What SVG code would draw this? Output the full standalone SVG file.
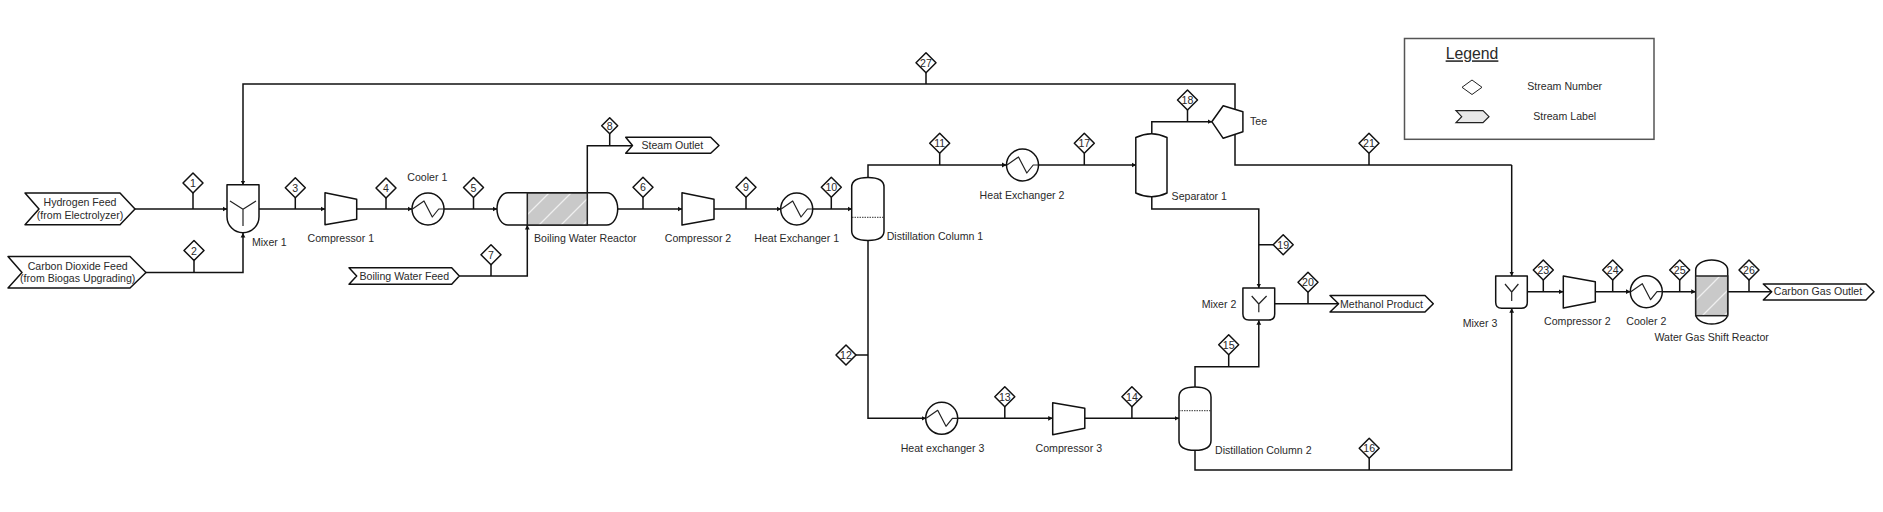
<svg xmlns="http://www.w3.org/2000/svg" width="1883" height="512" viewBox="0 0 1883 512">
<style>
text{font-family:"Liberation Sans",Arial,sans-serif;font-size:10.6px;fill:#2a2a2a;text-anchor:middle}
.s{fill:#fff;stroke:#111;stroke-width:1.5;stroke-linejoin:round}
.n{fill:none;stroke:#222;stroke-width:1.2;stroke-linejoin:round}
.c{fill:none;stroke:#111;stroke-width:1.5;stroke-linejoin:miter}
.a{marker-end:url(#ah)}
.l{text-anchor:start}
</style>
<defs>
<marker id="ah" markerUnits="userSpaceOnUse" markerWidth="5" markerHeight="6" refX="4.5" refY="3" orient="auto"><path d="M0,0.6 L4.5,3 L0,5.4 Z" fill="#111"/></marker>
<pattern id="cat" patternUnits="userSpaceOnUse" width="22" height="22" x="527" y="193"><rect width="22" height="22" fill="#c9c9c9"/><path d="M-2,24 L24,-2 M-2,2 L2,-2 M20,24 L24,20" stroke="#fff" stroke-width="1.3" stroke-opacity=".7"/></pattern>
<polygon id="dia" class="s" points="0,-10 10,0 0,10 -10,0"/>
<path id="hx" class="n" d="M-15.5,0 L-4,-8 L4.3,8 L10.7,0 L16,0"/>
</defs>

<g id="connectors">
<path class="c a" d="M135,209 H227"/>
<path class="c a" d="M146,272.5 H243 V233"/>
<path class="c a" d="M1235,109 V84 H243 V185"/>
<path class="c a" d="M259,209 H325"/>
<path class="c a" d="M357,209 H412"/>
<path class="c a" d="M444,209 H497"/>
<path class="c a" d="M459.3,276 H527.3 V225"/>
<path class="c" d="M587.3,193 V145.7 H632"/>
<path class="c a" d="M618,209 H682"/>
<path class="c a" d="M714,209 H781"/>
<path class="c a" d="M813,209 H852"/>
<path class="c a" d="M868,177.5 V165 H1006.5"/>
<path class="c a" d="M868,240.5 V418.3 H926"/>
<path class="c a" d="M1038.5,165 H1136"/>
<path class="c a" d="M1151.8,133.5 V121.7 H1212"/>
<path class="c a" d="M1151.8,197 V209 H1258.8 V288"/>
<path class="c" d="M1235,134 V165 H1511.7"/>
<path class="c a" d="M1511.7,165 V276"/>
<path class="c a" d="M958,418.3 H1052.7"/>
<path class="c a" d="M1085,418.3 H1179"/>
<path class="c a" d="M1195,387 V366.7 H1258.8 V320.3"/>
<path class="c a" d="M1195,450 V470 H1511.7 V308.3"/>
<path class="c" d="M1274.7,303.7 H1338"/>
<path class="c a" d="M1527.3,291.7 H1563.3"/>
<path class="c a" d="M1595.3,291.7 H1630.5"/>
<path class="c a" d="M1662.3,291.7 H1695.7"/>
<path class="c" d="M1727.7,291.7 H1771"/>
<path class="c" d="M193,193 V209 M194,260.5 V272.5 M295.3,197.7 V209 M386,198 V209 M473.5,197.5 V209 M491,264.7 V276 M609.7,133.7 V145.7 M643,197.3 V209 M746,197.3 V209 M831.3,197.3 V209 M939.7,153.3 V165 M1084.3,153.3 V165 M1187.5,110 V121.7 M1369,153.3 V165 M926,72.7 V84 M1308,292.3 V303.7 M1228.7,354.7 V366.7 M1369.2,458.3 V470 M1004.8,406.7 V418.3 M1131.9,406.7 V418.3 M856,355 H868 M1258.8,244.7 H1273 M1543.3,280 V291.7 M1612.7,280 V291.7 M1679.7,280 V291.7 M1749,280 V291.7"/>
</g>

<g id="hydrogen-feed"><polygon class="s" points="25,193 120,193 135,209 120,224.7 25,224.7 39,209"/><text x="80" y="206">Hydrogen Feed</text><text x="80" y="219">(from Electrolyzer)</text></g>
<g id="co2-feed"><polygon class="s" points="8,256.5 130,256.5 146,272.5 130,288 8,288 22,272.5"/><text x="77.7" y="270">Carbon Dioxide Feed</text><text x="77.7" y="282">(from Biogas Upgrading)</text></g>
<g id="boiling-water-feed"><polygon class="s" points="349,267.7 451.7,267.7 459.3,276 451.7,284.3 349,284.3 356.7,276"/><text x="404.3" y="280">Boiling Water Feed</text></g>
<g id="steam-outlet"><polygon class="s" points="625.7,137.3 710.7,137.3 719,145.5 710.7,153.3 625.7,153.3 632.5,145.5"/><text x="672.3" y="149">Steam Outlet</text></g>
<g id="methanol-product"><polygon class="s" points="1330,295.5 1425,295.5 1433.3,303.7 1425,312 1330,312 1338.6,303.7"/><text x="1381.5" y="308">Methanol Product</text></g>
<g id="carbon-gas-outlet"><polygon class="s" points="1763.3,284 1866,284 1874,291.7 1866,300 1763.3,300 1771.7,291.7"/><text x="1818" y="295">Carbon Gas Outlet</text></g>

<g id="mixer-1"><path class="s" d="M227,184.7 H259 V216.7 A16,16 0 0 1 227,216.7 Z"/><path class="n" d="M230,201 L243,209.3 L256,201 M243,209.3 V226"/><text x="269.3" y="246">Mixer 1</text></g>
<g id="compressor-1"><polygon class="s" points="325,192.7 356.7,199.3 356.7,219.3 325,224.7"/><text x="340.8" y="242.3">Compressor 1</text></g>
<g id="cooler-1"><circle class="s" cx="428" cy="209" r="16"/><use href="#hx" x="428" y="209"/><text x="427.3" y="181">Cooler 1</text></g>
<g id="boiling-water-reactor"><rect class="s" x="497" y="192.8" width="120.7" height="32.2" rx="11" ry="16"/><rect x="527.3" y="193" width="60" height="32" fill="url(#cat)" stroke="#222" stroke-width="1.5"/><text x="585.3" y="241.7">Boiling Water Reactor</text></g>
<g id="compressor-2"><polygon class="s" points="682,192.7 714,199.3 714,219.3 682,225"/><text x="698" y="241.7">Compressor 2</text></g>
<g id="heat-exchanger-1"><circle class="s" cx="796.7" cy="209" r="16"/><use href="#hx" x="796.7" y="209"/><text x="796.7" y="241.7">Heat Exchanger 1</text></g>
<g id="distillation-column-1"><path class="s" d="M851.7,187 Q851.7,177.5 868,177.5 Q884,177.5 884,187 V231 Q884,240.5 868,240.5 Q851.7,240.5 851.7,231 Z"/><path d="M852,217.3 H884" stroke="#333" stroke-width="1" stroke-dasharray="1.5 1" fill="none"/><text class="l" x="886.7" y="240">Distillation Column 1</text></g>
<g id="heat-exchanger-2"><circle class="s" cx="1022.5" cy="165" r="16"/><use href="#hx" x="1022.5" y="165"/><text x="1022" y="199">Heat Exchanger 2</text></g>
<g id="separator-1"><path class="s" d="M1135.8,137.5 Q1151.5,130 1167,137.5 V193 Q1151.5,200.5 1135.8,193 Z"/><text x="1199.3" y="200">Separator 1</text></g>
<g id="tee"><polygon class="s" points="1211.8,121.7 1223.2,105.7 1242.9,111.7 1242.9,131.7 1223.2,138.3"/><text x="1258.6" y="125">Tee</text></g>
<g id="mixer-2"><path class="s" d="M1242.9,288 H1274.7 V314 Q1274.7,320 1268.7,320 H1248.9 Q1242.9,320 1242.9,314 Z"/><path class="n" d="M1251.7,296 L1258.8,304 L1266.6,296 M1258.8,304 V312.3"/><text x="1219" y="308">Mixer 2</text></g>
<g id="heat-exchanger-3"><circle class="s" cx="941.7" cy="418.3" r="16"/><use href="#hx" x="941.7" y="418.3"/><text x="942.5" y="451.7">Heat exchanger 3</text></g>
<g id="compressor-3"><polygon class="s" points="1052.7,402.7 1084.8,408.3 1084.8,428.3 1052.7,434.7"/><text x="1068.8" y="451.7">Compressor 3</text></g>
<g id="distillation-column-2"><path class="s" d="M1179,397 Q1179,387 1195,387 Q1211,387 1211,397 V440.5 Q1211,450.3 1195,450.3 Q1179,450.3 1179,440.5 Z"/><path d="M1179,410.7 H1211" stroke="#333" stroke-width="1" stroke-dasharray="1.5 1" fill="none"/><text class="l" x="1215" y="454">Distillation Column 2</text></g>
<g id="mixer-3"><path class="s" d="M1495.7,276 H1527.3 V302.3 Q1527.3,308.3 1521.3,308.3 H1501.7 Q1495.7,308.3 1495.7,302.3 Z"/><path class="n" d="M1505,284 L1511.7,292 L1518.4,284 M1511.7,292 V301"/><text x="1480" y="326.7">Mixer 3</text></g>
<g id="compressor-2b"><polygon class="s" points="1563.3,276 1595.3,281.7 1595.3,301.7 1563.3,308"/><text x="1577.3" y="325">Compressor 2</text></g>
<g id="cooler-2"><circle class="s" cx="1646.3" cy="291.7" r="16"/><use href="#hx" x="1646.3" y="291.7"/><text x="1646.3" y="325">Cooler 2</text></g>
<g id="water-gas-shift-reactor"><rect class="s" x="1695.7" y="260" width="32" height="64" rx="16" ry="10"/><rect x="1695.7" y="276" width="32" height="39.7" fill="url(#cat)" stroke="#222" stroke-width="1.5"/><text x="1711.7" y="340.7">Water Gas Shift Reactor</text></g>

<g id="stream-1"><use href="#dia" x="193" y="183"/><text x="193" y="187">1</text></g>
<g id="stream-2"><use href="#dia" x="194" y="250.5"/><text x="194" y="254.5">2</text></g>
<g id="stream-3"><use href="#dia" x="295.3" y="187.7"/><text x="295.3" y="191.7">3</text></g>
<g id="stream-4"><use href="#dia" x="386" y="188"/><text x="386" y="192">4</text></g>
<g id="stream-5"><use href="#dia" x="473.5" y="187.5"/><text x="473.5" y="191.5">5</text></g>
<g id="stream-6"><use href="#dia" x="643" y="187.3"/><text x="643" y="191.3">6</text></g>
<g id="stream-7"><use href="#dia" x="491" y="254.7"/><text x="491" y="258.7">7</text></g>
<g id="stream-8"><polygon class="s" points="609.7,117.7 617.7,125.7 609.7,133.7 601.7,125.7"/><text x="609.7" y="129.7">8</text></g>
<g id="stream-9"><use href="#dia" x="746" y="187.3"/><text x="746" y="191.3">9</text></g>
<g id="stream-10"><use href="#dia" x="831.3" y="187.3"/><text x="831.3" y="191.3">10</text></g>
<g id="stream-11"><use href="#dia" x="939.7" y="143.3"/><text x="939.7" y="147.3">11</text></g>
<g id="stream-12"><use href="#dia" x="846" y="355"/><text x="846" y="359">12</text></g>
<g id="stream-13"><use href="#dia" x="1004.8" y="396.7"/><text x="1004.8" y="400.7">13</text></g>
<g id="stream-14"><use href="#dia" x="1131.9" y="396.7"/><text x="1131.9" y="400.7">14</text></g>
<g id="stream-15"><use href="#dia" x="1228.7" y="344.7"/><text x="1228.7" y="348.7">15</text></g>
<g id="stream-16"><use href="#dia" x="1369.2" y="448.3"/><text x="1369.2" y="452.3">16</text></g>
<g id="stream-17"><use href="#dia" x="1084.3" y="143.3"/><text x="1084.3" y="147.3">17</text></g>
<g id="stream-18"><use href="#dia" x="1187.5" y="100"/><text x="1187.5" y="104">18</text></g>
<g id="stream-19"><use href="#dia" x="1283.2" y="244.7"/><text x="1283.2" y="248.7">19</text></g>
<g id="stream-20"><use href="#dia" x="1308" y="282.3"/><text x="1308" y="286.3">20</text></g>
<g id="stream-21"><use href="#dia" x="1369" y="143.3"/><text x="1369" y="147.3">21</text></g>
<g id="stream-23"><use href="#dia" x="1543.3" y="270"/><text x="1543.3" y="274">23</text></g>
<g id="stream-24"><use href="#dia" x="1612.7" y="270"/><text x="1612.7" y="274">24</text></g>
<g id="stream-25"><use href="#dia" x="1679.7" y="270"/><text x="1679.7" y="274">25</text></g>
<g id="stream-26"><use href="#dia" x="1749" y="270"/><text x="1749" y="274">26</text></g>
<g id="stream-27"><use href="#dia" x="926" y="62.7"/><text x="926" y="66.7">27</text></g>

<g id="legend">
<rect x="1404.5" y="38.5" width="249.5" height="100.8" fill="#fff" stroke="#555" stroke-width="1.5"/>
<text x="1472" y="59.3" style="font-size:15.8px" text-decoration="underline">Legend</text>
<polygon points="1462,87.3 1472,80 1482,87.3 1472,94.5" fill="#fff" stroke="#222" stroke-width="1"/>
<polygon points="1456,110.7 1483,110.7 1489,116.7 1483,122.7 1456,122.7 1461.7,116.7" fill="#e8e8e8" stroke="#222" stroke-width="1.2"/>
<text x="1564.7" y="90">Stream Number</text>
<text x="1564.7" y="120">Stream Label</text>
</g>
</svg>
